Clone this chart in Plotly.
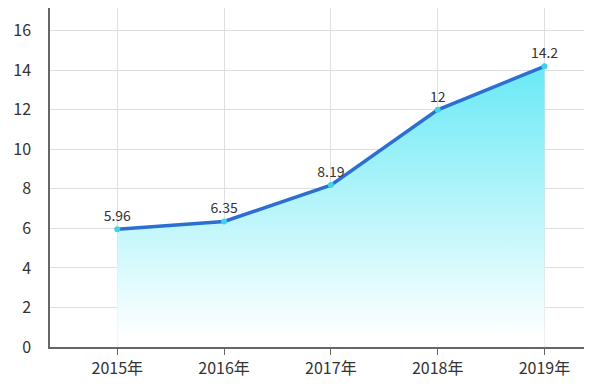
import plotly.graph_objects as go

years = ["2015年", "2016年", "2017年", "2018年", "2019年"]
values = [5.96, 6.35, 8.19, 12, 14.2]
labels = ["5.96", "6.35", "8.19", "12", "14.2"]
y_ticks = [0, 2, 4, 6, 8, 10, 12, 14, 16]

font_family = "Noto Sans CJK SC, Noto Sans, sans-serif"

fig = go.Figure()
fig.add_trace(go.Scatter(
    x=years, y=values,
    mode="lines+markers+text",
    text=labels,
    textposition="top center",
    textfont=dict(size=14, color="#333333", family=font_family),
    line=dict(color="#2b6fd3", width=3.5),
    marker=dict(size=6, color="#3ed3ea"),
    fill="tozeroy",
    fillgradient=dict(type="vertical", start=0.5, stop=14.2,
                      colorscale=[[0, "rgba(255,255,255,1)"], [0.3, "rgba(210,249,252,1)"], [1, "rgba(105,233,246,1)"]]),
    cliponaxis=False,
    hoverinfo="skip",
))

fig.update_layout(
    width=600, height=385,
    margin=dict(l=42, r=24, t=0, b=46, autoexpand=False),
    paper_bgcolor="white", plot_bgcolor="white",
    showlegend=False,
    font=dict(family=font_family, size=16, color="#333333"),
)
fig.update_xaxes(
    type="category",
    range=[-0.63, 4.37],
    showgrid=True, gridcolor="#e0e0e0", gridwidth=1,
    showline=True, linecolor="#666666", linewidth=1.5,
    ticks="outside", ticklen=6, tickcolor="#666666",
    tickfont=dict(size=16, color="#333333"),
    zeroline=False, automargin=False,
)
fig.update_yaxes(
    range=[0, 17.15],
    tickvals=y_ticks,
    showgrid=True, gridcolor="#dddddd", gridwidth=1,
    showline=True, linecolor="#666666", linewidth=1.5,
    ticks="", ticklabelstandoff=14,
    tickfont=dict(size=16, color="#333333"),
    zeroline=False, automargin=False,
)

fig.write_html("out.html")
